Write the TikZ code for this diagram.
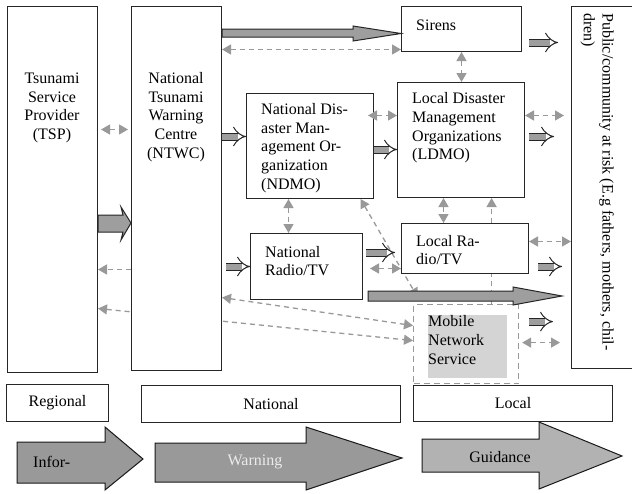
\documentclass[tikz,border=0pt]{standalone}
\usepackage{fontspec}
\setmainfont{Liberation Serif}
\usetikzlibrary{calc,backgrounds,arrows.meta,positioning}

\begin{document}
\begin{tikzpicture}[x=1pt,y=-1pt,%
    font=\fontsize{16}{18.7}\selectfont,%
    >={Triangle[length=9pt,width=10pt]},%
    box/.style={draw=black!85, line width=1pt, fill=white, inner sep=0pt, anchor=north west},%
    txt/.style={inner sep=0pt, align=left},%
    dasharrow/.style={draw=black!40, line width=1.3pt, dash pattern=on 5pt off 4pt},%
    sarrow/.style={draw=black!85, line width=1pt, double=black!38, double distance=6pt, -{Implies}},%
    fatarrow/.style={draw=black!85, line width=1pt, fill=black!38},%
    bigarrow/.style={draw=black!90, line width=1pt, fill=black!40}%
  ]
  \useasboundingbox (0,0) rectangle (632,493);

  %
  % Boites
  %
  \node[box, minimum width=90pt, minimum height=366pt] (tsp) at (7,6) {};
  \node[box, minimum width=90pt, minimum height=364pt] (ntwc) at (131,6) {};
  \node[box, minimum width=120pt, minimum height=45pt] (sirens) at (401,6) {};
  \node[box, minimum width=127pt, minimum height=115pt] (ldmo) at (397,82) {};
  \node[box, minimum width=127pt, minimum height=105pt] (ndmo) at (246,93) {};
  \node[box, minimum width=112pt, minimum height=66pt] (nrtv) at (250,233) {};
  \node[box, minimum width=127pt, minimum height=50pt] (lrtv) at (401,223) {};
  \node[box, minimum width=80pt, minimum height=362pt] (public) at (571,6) {};
  \node[box, fill=none, draw=black!40, line width=1.2pt, dash pattern=on 6pt off 4pt, minimum width=105pt, minimum height=79pt] (mobilearea) at (413,304) {};
  \node[box, draw=none, fill=black!17, minimum width=79pt, minimum height=63pt] (mobile) at (427,314) {};

  % Textes
  \node[txt, align=center] (tsplabel) at (52,108) {Tsunami\\Service\\Provider\\(TSP)};
  \node[txt, align=center] (ntwclabel) at (176,117) {National\\Tsunami\\Warning\\Centre\\(NTWC)};
  \node[txt, anchor=west] (sirenslabel) at (416,25) {Sirens};
  \node[txt, anchor=west] (ndmolabel) at (261,148) {National Dis-\\aster Man-\\agement Or-\\ganization\\(NDMO)};
  \node[txt, anchor=west] (ldmolabel) at (412,128) {Local Disaster\\Management\\Organizations\\(LDMO)};
  \node[txt, anchor=west] (nrtvlabel) at (265,261) {National\\Radio/TV};
  \node[txt, anchor=west] (lrtvlabel) at (416,250) {Local Ra-\\dio/TV};
  \node[txt, anchor=west] (mobilelabel) at (428,340) {Mobile\\Network\\Service};
  \node[txt, rotate=-90, anchor=north west] (publiclabel) at (614,13) {Public/community at risk (E.g fathers, mothers, chil-\\dren)};

  %
  % Liaisons en pointillés
  %
  \begin{pgfonlayer}{background}
    \fill[white] (0,0) rectangle (632,493);
    \draw[dasharrow,<->] ($(tsp.east)+(0,119)$) -- ($(mobilearea.west)+(0,-3.5)$);
    \draw[dasharrow,->] ($(mobilearea.north)+(25.5,0)$) -- ($(ldmo.south -| mobilearea.north)+(25.5,0)$);
    \draw[dasharrow,<->, shorten >=8pt] ($(ndmo.south)+(50.5,0)$) -- ($(mobilearea.north)+(-44.5,0)$);
  \end{pgfonlayer}

  \draw[dasharrow,<->, shorten <=3pt, shorten >=3pt] ($(tsp.east)+(0,-60)$) -- ($(ntwc.west |- tsp.east)+(0,-60)$);
  \draw[dasharrow,->] ($(ntwc.west |- tsp.east)+(0,80)$) -- ($(tsp.east)+(0,80)$);
  \draw[dasharrow,<->] ($(ntwc.east)+(0,109)$) -- ($(mobilearea.west)+(0,-18.5)$);
  \draw[dasharrow,<->] ($(ntwc.east |- sirens.west)+(0,20.5)$) -- ($(sirens.west)+(0,20.5)$);
  \draw[dasharrow,<->] (sirens.south) -- (sirens.south |- ldmo.north);
  \draw[dasharrow,<->] ($(ndmo.east)+(-6,-30.5)$) -- ($(ldmo.west |- ndmo.east)+(0,-30.5)$);
  \draw[dasharrow,<->, shorten >=7pt] ($(ldmo.east)+(0,-24.5)$) -- ($(public.west |- ldmo.east)+(0,-24.5)$);
  \draw[dasharrow,<->] ($(ndmo.south)+(-21.5,0)$) -- ($(nrtv.north -| ndmo.south)+(-21.5,0)$);
  \draw[dasharrow,<->] ($(ldmo.south)+(-17.5,0)$) -- ($(lrtv.north -| ldmo.south)+(-17.5,0)$);
  \draw[dasharrow,<->] ($(lrtv.east)+(0,-7)$) -- ($(public.west |- lrtv.east)+(0,-7)$);
  \draw[dasharrow,<->, shorten <=7pt] ($(nrtv.east)+(0,2)$) -- ($(lrtv.west |- nrtv.east)+(0,2)$);
  \draw[dasharrow,<->, shorten <=3pt, shorten >=11pt] ($(mobilearea.east)+(0,-1.5)$) -- ($(public.west |- mobilearea.east)+(0,-1.5)$);

  %
  % Fleches pleines
  %
  \draw[fatarrow] (tsp.east |- 0,215) -- (123,215) -- (121,207) -- (ntwc.west |- 0,223) -- (121,240) -- (123,232) -- (tsp.east |- 0,232) -- cycle;
  \draw[sarrow] ($(ntwc.east |- ndmo.west)+(0,-9.5)$) -- ($(ndmo.west)+(0,-9.5)$);
  \draw[sarrow] ($(ndmo.east)+(0,3.5)$) -- ($(ldmo.west |- ndmo.east)+(0,3.5)$);
  \draw[sarrow, shorten <=7pt, shorten >=13pt] ($(sirens.east)+(0,13.5)$) -- ($(public.west |- sirens.east)+(0,13.5)$);
  \draw[sarrow, shorten <=4pt, shorten >=17pt] ($(ldmo.east)+(0,-3.5)$) -- ($(public.west |- ldmo.east)+(0,-3.5)$);
  \draw[sarrow, shorten <=4pt] (ntwc.east |- nrtv.west) -- (nrtv.west);
  \draw[sarrow, shorten <=3pt, shorten >=6pt] ($(nrtv.east)+(0,-14)$) -- ($(lrtv.west |- nrtv.east)+(0,-14)$);
  \draw[sarrow, shorten <=9pt, shorten >=9pt] ($(lrtv.east)+(0,18)$) -- ($(public.west |- lrtv.east)+(0,18)$);
  \draw[sarrow, shorten <=10pt, shorten >=18pt] ($(mobilearea.east)+(0,-22.5)$) -- ($(public.west |- mobilearea.east)+(0,-22.5)$);

  % Longues fleches
  \draw[fatarrow] (ntwc.east |- 0,29) -- (353,29) -- (353,26) -- (sirens.west |- 0,33.5) -- (353,41) -- (353,37) -- (ntwc.east |- 0,37) -- cycle;
  \draw[fatarrow] (368,291) -- (513,291) -- (513,287) -- (562,296) -- (513,305) -- (513,301) -- (368,301) -- cycle;

  %
  % Bandeau du bas
  %
  \node[box, minimum width=102pt, minimum height=37pt] (regional) at (6,384) {Regional};
  \node[box, minimum width=259pt, minimum height=37pt] (national) at (141,385) {National};
  \node[box, minimum width=199pt, minimum height=36pt] (local) at (413,385) {Local};

  \draw[bigarrow] (17,442) -- (105,442) -- (105,427) -- (143,459) -- (105,490) -- (105,483) -- (17,483) -- cycle;
  \draw[bigarrow] (155,443) -- (306,443) -- (306,427) -- (402,458) -- (306,490) -- (306,482) -- (155,482) -- cycle;
  \draw[bigarrow, fill=black!30] (422,439) -- (539,439) -- (539,422) -- (622,456) -- (539,489) -- (539,472) -- (422,472) -- cycle;
  \node[txt, anchor=west] (inforlabel) at (33,462) {Infor-};
  \node[txt, text=black!8] (warninglabel) at (255,462) {Warning};
  \node[txt] (guidancelabel) at (500,457) {Guidance};

\end{tikzpicture}
\end{document}
